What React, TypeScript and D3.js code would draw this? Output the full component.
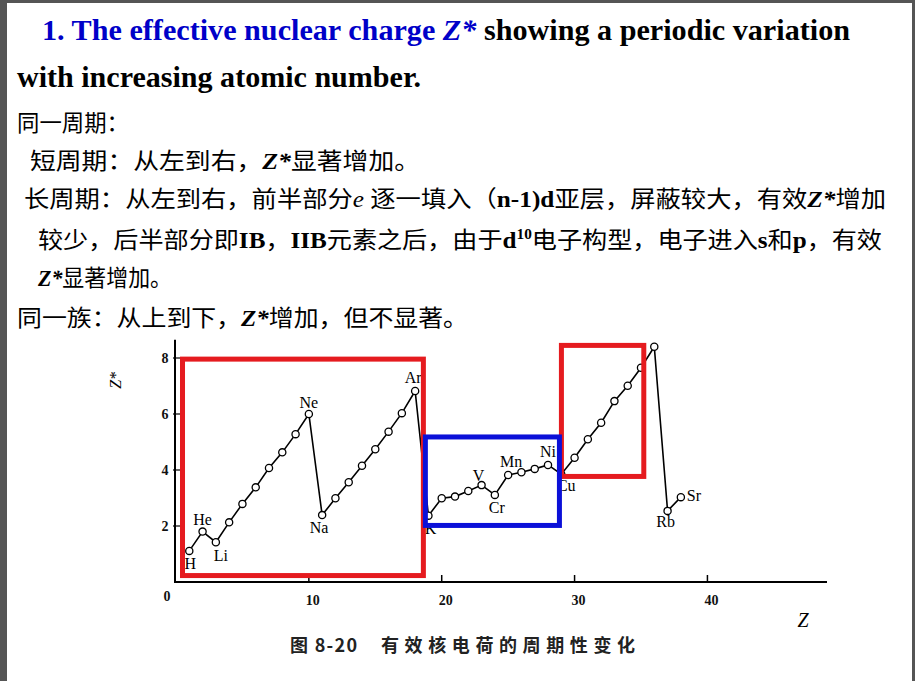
import React from "react";
import * as d3 from "d3";

// ---------- data ----------
const elements = ["H","He","Li","Be","B","C","N","O","F","Ne","Na","Mg","Al","Si","P","S","Cl","Ar","K","Ca","Sc","Ti","V","Cr","Mn","Fe","Co","Ni","Cu","Zn","Ga","Ge","As","Se","Br","Kr","Rb","Sr"];
const atomicNumbers = [1,2,3,4,5,6,7,8,9,10,11,12,13,14,15,16,17,18,19,20,21,22,23,24,25,26,27,28,29,30,31,32,33,34,35,36,37,38];
const zEff = [1.11,1.80,1.42,2.13,2.79,3.38,4.07,4.63,5.28,6.00,2.39,2.99,3.56,4.15,4.74,5.37,6.03,6.82,2.37,2.99,3.05,3.25,3.46,3.11,3.82,3.92,4.04,4.18,3.85,4.44,5.10,5.69,6.46,7.01,7.65,8.40,2.54,3.03];
const labeledElements = ["H","He","Li","Ne","Na","Ar","K","V","Cr","Mn","Ni","Cu","Rb","Sr"];
const xTicks = [10, 20, 30, 40];
const yTicks = [2, 4, 6, 8];
// highlight boxes in data units: [zFrom, zTo, vTop, vBottom]
const boxRed1 = [0.49, 18.62, 7.96, 0.23];
const boxBlue = [18.77, 28.86, 5.18, 2.02];
const boxRed2 = [29.01, 35.21, 8.45, 3.77];

const titleLine1 = ["1. The effective nuclear charge ", "Z*", " showing a periodic variation"];
const titleLine2 = "with increasing atomic number.";
const caption = ["图 8-20", "有效核电荷的周期性变化"];

// ---------- styles ----------
const SERIF = "'Liberation Serif', 'Times New Roman', serif";
const CJK = "'Noto Sans CJK SC', 'Noto Sans CJK JP', sans-serif";
const RED = "#e51b1f";
const BLUE = "#0b10d8";
const TITLE_BLUE = "#0000c8";

// label placement offsets (centre of label relative to point)
const placement: Record<string, [number, number, string]> = {
  H: [1, 13, "middle"], He: [0, -12, "middle"], Li: [5, 13, "middle"],
  Ne: [0, -11, "middle"], Na: [-3, 13, "middle"], Ar: [-2, -13, "middle"],
  K: [2, 13, "middle"], V: [-3, -9, "middle"], Cr: [2, 13, "middle"],
  Mn: [3, -13, "middle"], Ni: [0, -13, "middle"], Cu: [5, 11, "middle"],
  Rb: [-2, 11, "middle"], Sr: [6, -1, "start"],
};

type Seg = { t: string; k: "c" | "b" | "bi" | "i" | "sup" };
const cnLines: { x: number; y: number; w: number; segs: Seg[] }[] = [
  { x: 17, y: 131, w: 112, segs: [{ t: "同一周期：", k: "c" }] },
  { x: 30, y: 169, w: 390, segs: [{ t: "短周期：从左到右，", k: "c" }, { t: "Z*", k: "bi" }, { t: "显著增加。", k: "c" }] },
  { x: 24, y: 207, w: 862, segs: [
    { t: "长周期：从左到右，前半部分", k: "c" }, { t: "e ", k: "i" }, { t: "逐一填入（", k: "c" },
    { t: "n-1)d", k: "b" }, { t: "亚层，屏蔽较大，有效", k: "c" }, { t: "Z*", k: "bi" }, { t: "增加", k: "c" } ] },
  { x: 38, y: 248, w: 844, segs: [
    { t: "较少，后半部分即", k: "c" }, { t: "IB", k: "b" }, { t: "，", k: "c" }, { t: "IIB", k: "b" },
    { t: "元素之后，由于", k: "c" }, { t: "d", k: "b" }, { t: "10", k: "sup" }, { t: "电子构型，电子进入", k: "c" },
    { t: "s", k: "b" }, { t: "和", k: "c" }, { t: "p", k: "b" }, { t: "，有效", k: "c" } ] },
  { x: 38, y: 286, w: 134, segs: [{ t: "Z*", k: "bi" }, { t: "显著增加。", k: "c" }] },
  { x: 17, y: 326, w: 451, segs: [{ t: "同一族：从上到下，", k: "c" }, { t: "Z*", k: "bi" }, { t: "增加，但不显著。", k: "c" }] },
];

function segProps(s: Seg, prev: Seg | undefined) {
  const p: any = {};
  if (s.k === "c") { p.fontFamily = CJK; }
  else { p.fontFamily = SERIF; p.fontWeight = s.k === "i" ? 400 : 700; }
  if (s.k === "bi" || s.k === "i") p.fontStyle = "italic";
  if (s.k === "sup") { p.fontSize = 14; p.dy = -9; }
  if (prev && prev.k === "sup") p.dy = 9;
  return p;
}

export default function App() {
  const W = 915, H = 681;
  const x = d3.scaleLinear().domain([0, 49]).range([176, 827]);
  const y = d3.scaleLinear().domain([0, 8]).range([582, 358]);
  const pts = atomicNumbers.map((z, i) => ({ z, v: zEff[i], s: elements[i] }));
  const line = d3.line<{ z: number; v: number }>().x(d => x(d.z)).y(d => y(d.v));
  const axisTop = y(8.65);

  const box = (b: number[], color: string) => (
    <rect x={x(b[0])} y={y(b[2])} width={x(b[1]) - x(b[0])} height={y(b[3]) - y(b[2])}
      fill="none" stroke={color} strokeWidth={5} />
  );

  return (
    <svg width={W} height={H} style={{ position: "absolute", left: 0, top: 0 }}>
      <rect x={0} y={0} width={W} height={H} fill="#fff" />
      <rect x={0} y={0} width={7} height={H} fill="#555" />
      <rect x={0} y={0} width={W} height={3} fill="#555" />
      <rect x={W - 3} y={0} width={3} height={H} fill="#555" />

      {/* title */}
      <text x={42} y={40} fontFamily={SERIF} fontWeight={700} fontSize={30} textLength={808}
        lengthAdjust="spacingAndGlyphs" style={{ whiteSpace: "pre" }}>
        <tspan fill={TITLE_BLUE}>{titleLine1[0]}</tspan>
        <tspan fill={TITLE_BLUE} fontStyle="italic">{titleLine1[1]}</tspan>
        <tspan fill="#000">{titleLine1[2]}</tspan>
      </text>
      <text x={17} y={87} fontFamily={SERIF} fontWeight={700} fontSize={30} textLength={404}
        lengthAdjust="spacingAndGlyphs">{titleLine2}</text>

      {cnLines.map((ln, i) => (
        <text key={i} x={ln.x} y={ln.y} fontSize={23} fill="#000" textLength={ln.w}
          lengthAdjust="spacingAndGlyphs" style={{ whiteSpace: "pre" }}>
          {ln.segs.map((s, j) => (
            <tspan key={j} {...segProps(s, ln.segs[j - 1])}>{s.t}</tspan>
          ))}
        </text>
      ))}

      {/* axes */}
      <g stroke="#000" strokeWidth={2}>
        <line x1={x(0) - 1} y1={axisTop} x2={x(0) - 1} y2={y(0) + 1} />
        <line x1={x(0) - 1} y1={y(0)} x2={x(49)} y2={y(0)} />
        {xTicks.map(t => <line key={t} x1={x(t)} x2={x(t)} y1={y(0)} y2={y(0) - 7} strokeWidth={1.5} />)}
        {yTicks.map(t => <line key={t} x1={x(0) - 3} x2={x(0) + 9} y1={y(t)} y2={y(t)} strokeWidth={1.2} />)}
      </g>
      <g fontFamily={SERIF} fontSize={14} fontWeight={700} fill="#111">
        {xTicks.map(t => <text key={t} x={x(t) + 4} y={605} textAnchor="middle">{t}</text>)}
        <text x={x(0) - 9} y={601} textAnchor="middle">0</text>
        {yTicks.map(t => <text key={t} x={x(0) - 11} y={y(t) + 5} textAnchor="middle">{t}</text>)}
      </g>
      <text transform={`translate(${x(0) - 55},${y(7.2)}) rotate(-90)`} fontFamily={SERIF}
        fontStyle="italic" fontSize={16} textAnchor="middle">Z*</text>
      <text x={803} y={627} fontFamily={SERIF} fontStyle="italic" fontSize={20} textAnchor="middle">Z</text>

      {/* series */}
      <path d={line(pts) || ""} fill="none" stroke="#000" strokeWidth={1.6} />
      {pts.map(p => (
        <circle key={p.z} cx={x(p.z)} cy={y(p.v)} r={3.6} fill="#fff" stroke="#000" strokeWidth={1.3} />
      ))}
      <g fontFamily={SERIF} fontSize={16} fill="#000">
        {pts.filter(p => labeledElements.includes(p.s)).map(p => {
          const [dx, dy, anchor] = placement[p.s];
          return <text key={p.s} x={x(p.z) + dx} y={y(p.v) + dy + 5.3} textAnchor={anchor}>{p.s}</text>;
        })}
      </g>

      {/* highlight boxes */}
      {box(boxRed1, RED)}
      {box(boxRed2, RED)}
      {box(boxBlue, BLUE)}

      {/* caption */}
      <g fontFamily={CJK} fontWeight={700} fontSize={18} fill="#222">
        <text x={290} y={652} textLength={67} lengthAdjust="spacing" style={{ whiteSpace: "pre" }}>{caption[0]}</text>
        <text x={381} y={652} textLength={254} lengthAdjust="spacing">{caption[1]}</text>
      </g>
    </svg>
  );
}
